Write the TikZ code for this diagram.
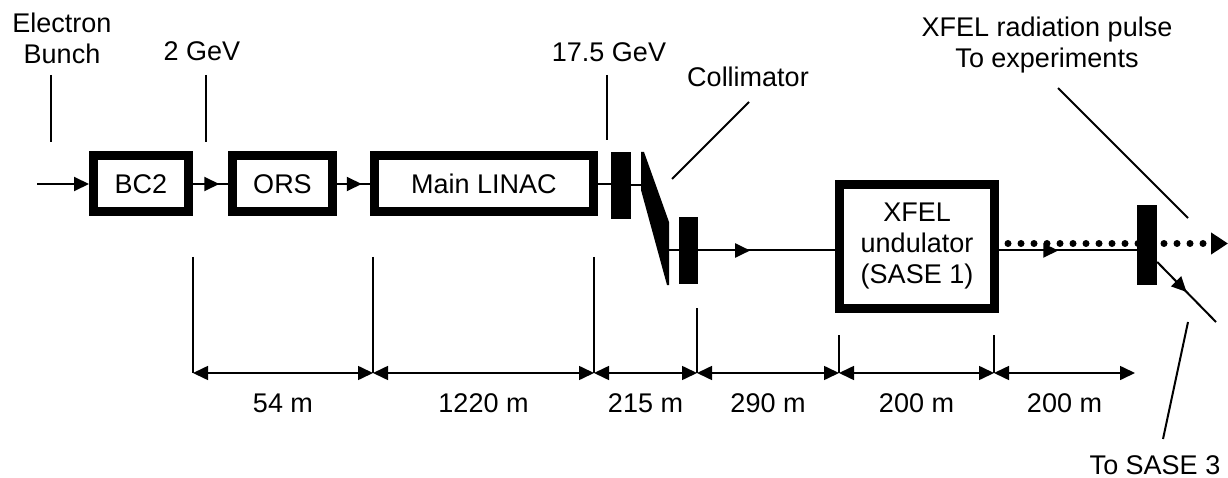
\documentclass[tikz,border=0pt]{standalone}
\usepackage{fontspec}
\setmainfont{Liberation Sans}
\usetikzlibrary{arrows.meta, decorations.markings, calc}

\begin{document}
\begin{tikzpicture}[x=1pt, y=-1pt,
    font=\fontsize{27}{31}\selectfont,
    box/.style={draw, line width=9pt, inner sep=0pt, minimum height=56pt, align=center},
    magnet/.style={fill, inner sep=0pt, minimum width=20pt},
    beam/.style={line width=2pt},
    lbl/.style={inner sep=0pt, align=center},
    pointer/.style={line width=2pt},
    midarrow/.style={postaction={decorate}, decoration={markings,
        mark=at position #1 with {\arrow{Triangle[length=15pt,width=14pt]}}}},
    dimline/.style={line width=1.6pt, {Triangle[length=15pt,width=14pt]}-{Triangle[length=15pt,width=14pt]}},
    xray/.style={line width=7pt, line cap=round, dash pattern=on 0pt off 13pt,
        -{Triangle[length=17pt,width=21pt]}}
]
    \useasboundingbox (0,0) rectangle (1228,478);

    % beam line
    \node[box, minimum width=95pt] (bc2) at (141,184) {BC2};
    \node[box, minimum width=100pt] (ors) at (282.5,184) {ORS};
    \node[box, minimum width=219pt] (linac) at (484,184) {Main LINAC};
    \node[magnet, minimum height=67pt] (blk1) at (621,185.5) {};
    \node[magnet, minimum width=19pt, minimum height=67pt] (blk2) at (688.5,250.5) {};
    \node[box, minimum width=155pt, minimum height=124pt] (und) at (917,246.5) {XFEL\\undulator\\(SASE 1)};
    \node[magnet, minimum height=80pt] (blk3) at (1147,245) {};

    \coordinate (in) at (37,184);
    \coordinate (wedgeA) at (641,185.5);
    \coordinate (wedgeB) at (669,250.5);
    \coordinate (out) at (1228,243.5);
    \coordinate (sase3) at (1216,322);

    \fill (641,152) -- (644,152) -- (669,222) -- (669,285) -- (667,285) -- (641,190) -- cycle;

    \draw[beam, -{Triangle[length=15pt,width=14pt]}] (in) -- (bc2.west);
    \draw[beam, midarrow=0.75] (bc2.east) -- (ors.west);
    \draw[beam, midarrow=0.75] (ors.east) -- (linac.west);
    \draw[beam] (linac.east) -- (linac.east -| blk1.west);
    \draw[beam] (blk1.east) -- (wedgeA);
    \draw[beam] (wedgeB) -- (blk2.west);
    \draw[beam, midarrow=0.38] (blk2.east) -- (blk2.east -| und.west);
    \draw[beam, midarrow=0.43] (und.east |- blk2.east) -- (blk3.west |- blk2.east);
    \draw[xray] ($(und.east)+(9,-3)$) -- (out);
    \draw[beam, midarrow=0.5] ($(blk3.east)+(0,17)$) -- (sase3);

    % labels and pointers
    \node[lbl] (ebunch) at (62,38) {Electron\\Bunch};
    \node[lbl] (e2) at (202,51) {2 GeV};
    \node[lbl] (e17) at (609,52) {17.5 GeV};
    \node[lbl] (coll) at (748,77) {Collimator};
    \node[lbl] (pulse) at (1047,45) {XFEL radiation pulse\\To experiments};
    \node[lbl] (tosase) at (1155,465) {To SASE 3};

    \draw[pointer] (51,75) -- (51,142);
    \draw[pointer] (206,75) -- (206,142);
    \draw[pointer] (607,75) -- (607,140);
    \draw[pointer] (749,102) -- (672,179);
    \draw[pointer] (1058,88) -- (1188,218);
    \draw[pointer] (1188,322) -- (1163,439);

    % distances
    \foreach \x/\y in {193/257, 373/257, 594/257, 697/308, 839/335, 994/335}
        \draw[pointer] (\x,\y) -- (\x,373);
    \foreach \a/\b/\t in {193/373/54 m, 373/594/1220 m, 594/697/215 m,
        697/839/290 m, 839/994/200 m, 994/1135/200 m}
        \draw[dimline] (\a,373) -- node[lbl, yshift=-30pt] {\t} (\b,373);
\end{tikzpicture}
\end{document}
